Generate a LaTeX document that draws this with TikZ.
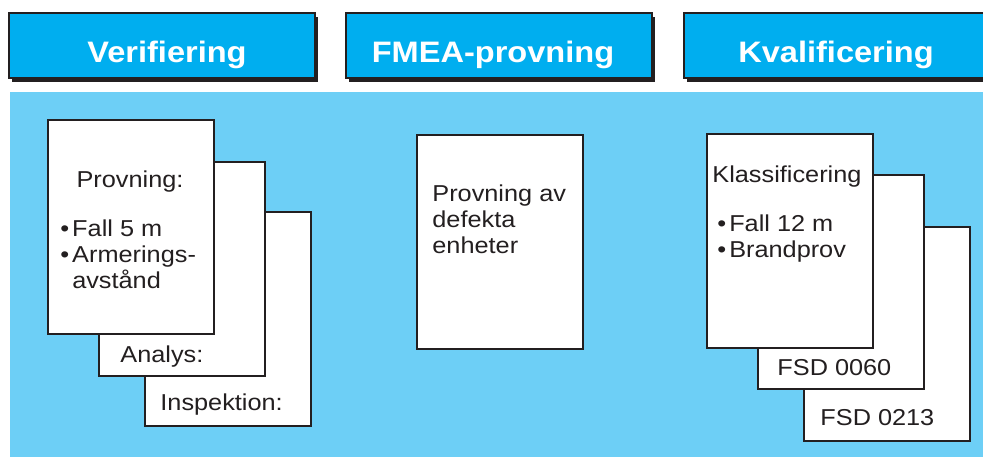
\documentclass[tikz,border=0pt]{standalone}
\usepackage{fontspec}
\setmainfont[FakeStretch=1.1]{Liberation Sans}
\usetikzlibrary{positioning}
\definecolor{hdblue}{HTML}{00AEEF}
\definecolor{panelblue}{HTML}{6DCFF6}
\definecolor{inkgrey}{HTML}{231F20}

\begin{document}
\begin{tikzpicture}[
  x=0.5pt, y=-0.5pt,
  hdbox/.style={draw=inkgrey, line width=1pt, fill=hdblue, inner sep=0pt,
                minimum width=153pt, minimum height=32.5pt},
  hdshadow/.style={fill=inkgrey, inner sep=0pt, minimum width=153pt, minimum height=32.5pt},
  hdtxt/.style={font=\fontsize{14.8}{16}\selectfont\bfseries, text=white, inner sep=0pt, anchor=base},
  page/.style={draw=inkgrey, line width=1pt, fill=white, inner sep=0pt,
               minimum width=83pt, minimum height=107pt},
  txt/.style={font=\fontsize{11.5}{13}\selectfont, text=inkgrey, inner sep=0pt,
              anchor=base west, align=left},
]
\useasboundingbox (0,0) rectangle (983,457);

% ---- Panel ----
\fill[panelblue] (10,92) rectangle (983,457);

% ---- Header row ----
\node[hdshadow] (shV) at (164.5,49) {};
\node[hdbox]    (hdV) at (161.5,45) {};
\node[hdtxt]    (tV)  at (167,62) {Verifiering};
\node[hdshadow] (shF) at (502,49.5) {};
\node[hdbox]    (hdF) at (499,45.5) {};
\node[hdtxt]    (tF)  at (493,62) {FMEA-provning};
\node[hdshadow] (shK) at (840,49) {};
\node[hdbox]    (hdK) at (837,45) {};
\node[hdtxt]    (tK)  at (836,62) {Kvalificering};

% ---- Verifiering : three stacked sheets ----
\node[page] (insp) at (227.5,319) {};
\node[page] (anal) at (181.5,268.5) {};
\node[page] (prov) at (130.5,226.5) {};
\node[txt, anchor=base] (provHead) at (130,187) {Provning:};
\node[txt] (provList) at (60,288)
      {\textbullet\hspace{1.5pt}Fall 5 m\\\textbullet\hspace{1.5pt}Armerings-\\\phantom{\textbullet}\hspace{1.5pt}avstånd};
\node[txt] (analTxt) at (120,362) {Analys:};
\node[txt] (inspTxt) at (160,410) {Inspektion:};

% ---- FMEA-provning : one sheet ----
\node[page] (fmea) at (500,242) {};
\node[txt] (fmeaTxt) at (432,253) {Provning av\\defekta\\enheter};

% ---- Kvalificering : three stacked sheets ----
\node[page] (fsdB) at (886.5,333.5) {};
\node[page] (fsdA) at (840.5,281.5) {};
\node[page] (klass) at (790,241) {};
\node[txt] (klassHead) at (712,182) {Klassificering};
\node[txt] (klassList) at (717,257)
      {\textbullet\hspace{1.5pt}Fall 12 m\\\textbullet\hspace{1.5pt}Brandprov};
\node[txt] (fsdATxt) at (777,375) {FSD 0060};
\node[txt] (fsdBTxt) at (820,425) {FSD 0213};
\end{tikzpicture}
\end{document}
